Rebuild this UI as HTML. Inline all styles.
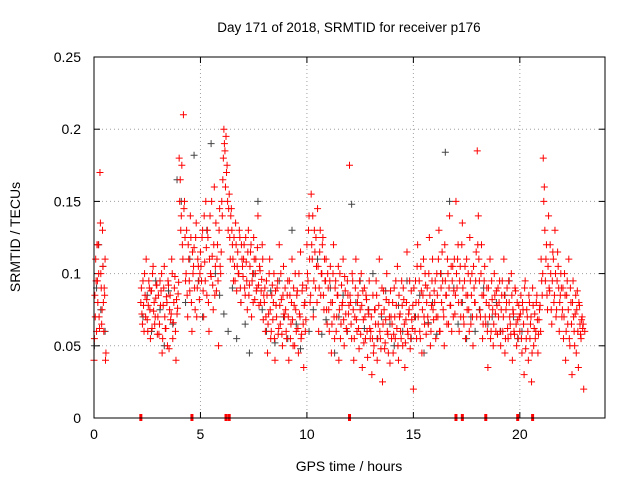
<!DOCTYPE html>
<html><head><meta charset="utf-8"><style>
body{margin:0;background:#fff;}
svg text{font-family:"Liberation Sans",sans-serif;font-size:14px;fill:#000;}
</style></head><body>
<svg id="chart" width="640" height="480" xmlns="http://www.w3.org/2000/svg">
<text x="349" y="32" text-anchor="middle" style="font-size:13.5px">Day 171 of 2018, SRMTID for receiver p176</text>
<text x="349" y="471" text-anchor="middle">GPS time / hours</text>
<text transform="translate(20,237) rotate(-90)" text-anchor="middle">SRMTID / TECUs</text>
<g id="grid"></g>
<g id="ticks"></g>
<g id="gray"></g>
<g id="red"></g>
<g id="gaps"></g>
<rect x="94" y="57" width="511" height="361" fill="none" stroke="#000" stroke-width="1"/>
</svg>
<script>
const xTicks=[0,5,10,15,20];
const yTicks=[0,0.05,0.1,0.15,0.2,0.25];
const yTickLabels=["0","0.05","0.1","0.15","0.2","0.25"];
const redSeg1Start=0, redSeg1Step=0.04;
const redSeg1="40 85 110 60 95 120 70 170 100 65 130 80 90 110 45";
const redSeg1bStart=0.02, redSeg1bStep=0.04;
const redSeg1b="55 70 95 120 80 100 62 135 90 75 105 60 85 40";
const redSeg2Start=2.2, redSeg2Step=0.05;
const redSeg2="80 72 95 60 85 110 68 78 90 55 88 100 74 65 83 92 "+
"70 58 95 88 45 78 105 62 84 50 92 75 68 110 55 80 98 40 72 86 "+
"180 165 140 120 210 150 95 130 70 110 88 125 60 100 118 75 135 90 105 82 "+
"115 95 130 70 108 150 85 125 60 140 98 112 75 160 105 88 120 50 145 100 "+
"150 165 200 185 195 175 130 155 110 145 120 95 105 135 88 115 100 125 80 110 "+
"98 120 85 108 75 130 92 115 70 100 125 82 110 90 140 78 102 88 120 68 "+
"80 60 95 45 72 110 55 85 68 100 40 78 90 58 120 65 82 50 105 70 "+
"75 55 95 40 85 65 110 50 78 100 60 88 45 72 115 58 92 35 80 68 "+
"120 95 140 80 155 110 70 130 90 105 145 60 115 85 100 125 75 95 110 65 "+
"90 60 105 45 80 120 55 95 70 85 40 100 65 78 110 50 88 62 95 72 "+
"175 80 55 95 40 70 110 60 85 48 75 100 35 68 90 55 82 42 72 62 "+
"60 30 85 50 75 95 40 65 110 55 72 25 88 48 68 100 58 80 38 70 "+
"65 45 90 55 78 105 40 70 60 95 50 82 35 68 115 58 75 48 88 62 "+
"20 70 95 55 120 80 60 105 45 85 70 100 58 90 65 125 50 78 110 68 "+
"80 55 100 70 130 60 90 115 75 50 95 85 110 65 140 78 60 105 88 72 "+
"150 90 120 60 105 80 135 70 95 55 110 85 75 125 65 100 50 90 80 115 "+
"185 140 95 70 120 55 85 105 65 90 35 78 110 60 82 50 100 72 88 58 "+
"70 95 50 85 60 110 45 75 90 55 80 65 100 40 72 58 88 50 68 78 "+
"60 85 45 75 30 95 55 70 40 80 65 25 90 50 72 60 85 45 68 78 "+
"110 85 180 160 95 120 75 140 88 100 65 115 80 130 70 95 105 60 85 90 "+
"75 55 100 40 85 65 110 50 80 30 95 60 72 45 88 35 78 58 68 62 20 60";
const redSeg3Start=2.225, redSeg3Step=0.05;
const redSeg3="90 65 78 100 70 82 60 95 75 88 62 105 80 70 92 58 "+
"85 65 78 100 55 90 70 62 80 95 48 85 72 100 66 90 60 82 76 94 "+
"150 130 175 110 145 125 100 85 120 95 140 80 115 105 90 125 70 110 95 100 "+
"105 125 88 140 95 118 130 80 110 100 150 92 120 85 135 110 95 130 105 115 "+
"140 180 190 160 170 150 145 125 140 130 110 125 95 120 105 100 130 90 120 105 "+
"110 90 125 95 115 85 105 120 95 80 110 100 88 118 92 105 80 96 110 85 "+
"90 70 85 65 100 75 60 92 80 55 88 70 95 62 78 100 58 85 72 90 "+
"60 85 70 95 55 80 68 90 50 75 85 62 100 70 55 88 65 78 60 90 "+
"100 130 110 85 120 140 95 115 125 80 105 90 130 100 120 85 110 95 75 100 "+
"75 95 80 65 100 70 90 60 85 105 75 55 92 80 68 98 72 60 85 78 "+
"85 65 100 75 55 90 68 80 62 95 58 78 88 52 70 85 60 75 95 55 "+
"70 55 45 75 65 85 55 78 60 48 90 65 75 52 82 60 45 70 88 55 "+
"80 58 70 95 62 50 85 72 55 78 90 65 52 80 60 72 95 55 68 78 "+
"90 60 80 105 70 95 55 88 75 110 65 92 80 70 100 85 60 95 75 88 "+
"95 70 85 110 60 100 80 95 70 120 85 65 100 90 78 105 95 70 110 85 "+
"100 110 80 95 70 120 90 65 105 85 75 100 60 95 85 70 105 80 95 70 "+
"120 110 75 100 85 65 95 70 80 60 90 70 55 95 75 65 85 60 78 90 "+
"80 60 75 95 70 85 55 80 62 95 70 58 85 75 60 90 65 80 55 70 "+
"72 55 80 65 90 48 75 60 85 55 70 45 78 62 55 80 68 58 75 60 "+
"95 100 150 130 110 85 105 90 120 75 95 110 85 100 75 115 90 80 100 70 "+
"90 70 85 60 95 75 55 90 65 80 70 50 85 75 60 80 65 55 70 65";
const graySeg1Start=0.02, graySeg1Step=0.1;
const graySeg1="50 90 120 75 105 60";
const graySeg2Start=2.3, graySeg2Step=0.2;
const graySeg2="70 85 60 95 75 50 88 65 165 150 80 110 182 95 70 130 190 100 85 72 "+
"60 90 55 80 65 45 100 150 75 60 88 52 95 70 55 130 65 48 80 60 "+
"75 110 58 68 90 45 70 85 60 148 80 95 62 75 100 55 70 88 65 50 "+
"78 60 95 55 70 85 45 66 80 58 100 184 150 90 65 80 55 70 60 75 90 65 70 80 60 85 95 70 55 60";
const gapHours=[2.2,4.6,6.2,6.35,12,17,17.3,18.4,19.9,20.6];

const X0=94,X1=605,Y0=418,Y1=57,XMAX=24,YMAX=0.25;
const sx=t=>X0+(X1-X0)*t/XMAX;
const sy=v=>Y0-(Y0-Y1)*v/YMAX;
const NS="http://www.w3.org/2000/svg";
function mk(tag,attrs,parent){const e=document.createElementNS(NS,tag);for(const k in attrs)e.setAttribute(k,attrs[k]);parent.appendChild(e);return e;}
const grid=document.getElementById('grid'),ticks=document.getElementById('ticks');
xTicks.forEach(t=>{
  const x=sx(t);
  if(t>0){const g=mk('line',{x1:x,x2:x,y1:Y1,y2:Y0,stroke:'#a0a0a0','stroke-dasharray':'1,3'},grid);
  
  }
  const l=mk('line',{x1:x,x2:x,y1:Y0,y2:Y0-6,stroke:'#000'},ticks);
  
  
  const l2=mk('line',{x1:x,x2:x,y1:Y1,y2:Y1+6,stroke:'#000'},ticks);
  
  
  const tx=mk('text',{x:x,y:Y0+21,'text-anchor':'middle'},ticks);tx.textContent=String(t);
  
  
});
yTicks.forEach((v,i)=>{
  const y=sy(v);
  if(v>0&&v<YMAX){const g=mk('line',{x1:X0,x2:X1,y1:y,y2:y,stroke:'#a0a0a0','stroke-dasharray':'1,3'},grid);
  
  }
  const l=mk('line',{x1:X0,x2:X0+6,y1:y,y2:y,stroke:'#000'},ticks);
  
  
  const l2=mk('line',{x1:X1-6,x2:X1,y1:y,y2:y,stroke:'#000'},ticks);
  
  
  const tx=mk('text',{x:X0-13,y:y+5,'text-anchor':'end'},ticks);tx.textContent=yTickLabels[i];
  
  
});
function plotSeg(str,start,step,color,parent){
  const vals=str.trim().split(/\s+/).map(Number);
  let d='';
  vals.forEach((v,i)=>{const x=sx(start+i*step),y=sy(v/1000);d+=`M${x-3.5},${y}h7M${x},${y-3.5}v7`;});
  const p=mk('path',{d:d,stroke:color,'stroke-width':1,fill:'none'},parent);
  
  
}
const gray=document.getElementById('gray'),red=document.getElementById('red');
plotSeg(graySeg1,graySeg1Start,graySeg1Step,'#444',gray);
plotSeg(graySeg2,graySeg2Start,graySeg2Step,'#444',gray);
plotSeg(redSeg1,redSeg1Start,redSeg1Step,'#ff0000',red);
plotSeg(redSeg1b,redSeg1bStart,redSeg1bStep,'#ff0000',red);
plotSeg(redSeg2,redSeg2Start,redSeg2Step,'#ff0000',red);
plotSeg(redSeg3,redSeg3Start,redSeg3Step,'#ff0000',red);
const gaps=document.getElementById('gaps');
gapHours.forEach(h=>{
  const r=mk('rect',{x:sx(h)-1.5,y:Y0-4,width:3,height:7,fill:'#ff0000'},gaps);
  
  
});
</script>
</body></html>
